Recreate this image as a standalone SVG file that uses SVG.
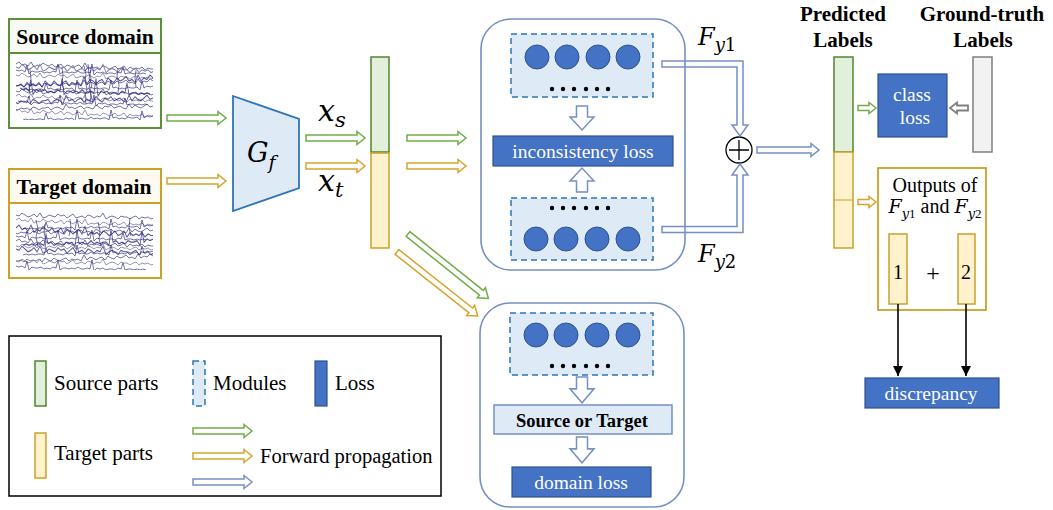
<svg xmlns="http://www.w3.org/2000/svg" width="1053" height="510" viewBox="0 0 1053 510" font-family="Liberation Serif, Times New Roman, serif">
  <style>
    text { font-family: 'Liberation Serif', 'Times New Roman', serif; }
    .b { font-weight: bold; }
    .w { fill: #fff; }
    .m { font-family: 'DejaVu Serif', 'Liberation Serif', serif; font-style: italic; }
    .n { font-style: normal; }
    .loss { fill: #4472c4; stroke: #2f528f; stroke-width: 1.2; }
    .mod { fill: #deebf7; stroke: #2e75b6; stroke-width: 1.5; stroke-dasharray: 6 4; }
    .unit { fill: #4472c4; stroke: #2f528f; stroke-width: 1; }
    .panel { fill: none; stroke: #7590c4; stroke-width: 1.6; }
    .src { fill: #e2efda; stroke: #548235; stroke-width: 1.5; }
    .tgt { fill: #fff2cc; stroke: #c9a227; stroke-width: 1.5; }
    .hg { fill: #fff; stroke: #70ad47; stroke-width: 1.5; }
    .hy { fill: #fff; stroke: #d4a52a; stroke-width: 1.5; }
    .hb { fill: #fff; stroke: #7590c4; stroke-width: 1.5; }
    .hk { fill: #fff; stroke: #7f7f7f; stroke-width: 1.8; }
    .eeg { fill: none; stroke: #26267a; stroke-width: 0.8; stroke-opacity: 0.8; }
    .eeg2 { fill: none; stroke: #7c7ca8; stroke-width: 0.8; }
  </style>
  <defs>
    <!-- hollow block arrows -->
    <path id="ha" d="M0,-3 H51 V-6.5 L59,0 L51,6.5 V3 H0 Z"/>
    <path id="hd" d="M0,-3 H94 V-6.5 L103,0 L94,6.5 V3 H0 Z"/>
    <path id="hs" d="M0,-2.5 H11 V-5.5 L18,0 L11,5.5 V2.5 H0 Z"/>
    <path id="dn" d="M-5.5,0 V11 H-12 L0,24 L12,11 H5.5 V0 Z"/>
    <!-- signal traces -->
    <path id="eA" d="M0,0 l3,-2 3,3 3,-1 3,2 3,-4 3,5 3,-2 3,1 3,-3 3,2 3,1 3,-2 3,3 3,-1 3,-2 3,4 3,-3 3,1 3,2 3,-2 3,-1 3,3 3,-5 3,6 3,-2 3,1 3,-1 3,2 3,-3 3,1 3,2 3,-1 3,-2 3,3 3,-1 3,-2 3,4 3,-3 3,2 3,-1 3,1 3,-2 3,3 3,-2 3,1 3,0"/>
    <path id="eB" d="M0,0 l3,1 3,-3 3,2 3,2 3,-1 3,-2 3,3 3,-4 3,5 3,-1 3,-2 3,1 3,1 3,-3 3,2 3,-1 3,3 3,-2 3,-2 3,4 3,-1 3,-1 3,2 3,-3 3,1 3,2 3,-2 3,1 3,-4 3,6 3,-2 3,-1 3,1 3,2 3,-3 3,1 3,0 3,2 3,-2 3,-1 3,3 3,-2 3,1 3,-1 3,2 3,-1"/>
    <path id="eC" d="M0,0 l3,1 3,-1 3,2 2,-7 2,9 3,-3 3,1 3,0 3,-1 3,2 3,-1 3,1 3,-2 3,1 2,-8 2,10 3,-2 3,0 3,1 3,-1 3,1 3,-2 3,2 3,0 3,-1 3,1 2,-9 2,11 3,-3 3,1 3,-1 3,2 3,-1 3,0 3,1 3,-2 3,1 2,-6 2,7 3,-1 3,0 3,1 3,-1 3,1 3,-1 3,1"/>
    <clipPath id="cs"><rect x="16" y="60" width="137" height="60"/></clipPath>
    <clipPath id="ct"><rect x="16" y="212" width="137" height="58"/></clipPath>
    <marker id="ak" viewBox="0 0 10 10" refX="10" refY="5" markerWidth="11" markerHeight="10" markerUnits="userSpaceOnUse" orient="auto">
      <path d="M0,0 L10,5 L0,10 Z" fill="#000"/>
    </marker>
  </defs>

  <!-- source domain input -->
  <g id="source-domain">
    <rect x="9" y="19" width="152" height="109" fill="#fff" stroke="#5b8f3a" stroke-width="2"/>
    <rect x="10" y="20" width="150" height="33" fill="#f6faf3"/>
    <line x1="9" y1="53" x2="161" y2="53" stroke="#5b8f3a" stroke-width="2"/>
    <text class="b" x="85" y="44" text-anchor="middle" font-size="21.5">Source domain</text>
    <g clip-path="url(#cs)">
      <use href="#eA" x="16" y="64" class="eeg"/>
      <use href="#eB" transform="translate(16,67) scale(1,1.4)" class="eeg2"/>
      <use href="#eC" x="16" y="70" class="eeg"/>
      <use href="#eB" x="16" y="75" class="eeg2"/>
      <use href="#eA" transform="translate(153,78) scale(-1,1.5)" class="eeg"/>
      <use href="#eA" transform="translate(153,81) scale(-1,1)" class="eeg"/>
      <use href="#eC" transform="translate(153,86) scale(-1,1)" class="eeg"/>
      <use href="#eC" transform="translate(20,88) scale(1,1.6)" class="eeg"/>
      <use href="#eB" x="16" y="91" class="eeg"/>
      <use href="#eA" x="16" y="96" class="eeg2"/>
      <use href="#eB" transform="translate(153,98) scale(-1,1.4)" class="eeg"/>
      <use href="#eC" x="18" y="101" class="eeg"/>
      <use href="#eB" transform="translate(153,106) scale(-1,1)" class="eeg"/>
      <use href="#eA" x="16" y="111" class="eeg2"/>
      <use href="#eC" transform="translate(153,116) scale(-1,1)" class="eeg"/>
      <path class="eeg" d="M84,66 l2,8 -1,6 2,9 -2,7 1,8 M88,64 l1,10 2,4 -2,10 2,6 -1,9 M91,70 l-2,9 3,5 -2,8 2,7 M30,70 l1,9 -2,8 1,7 M118,68 l-1,8 2,9 -1,8 M62,68 l1,7 -1,9 2,6 M136,70 l-1,8 1,9"/>
    </g>
  </g>

  <!-- target domain input -->
  <g id="target-domain">
    <rect x="9" y="169" width="152" height="109" fill="#fff" stroke="#c9a227" stroke-width="2"/>
    <rect x="10" y="170" width="150" height="33" fill="#fefaf0"/>
    <line x1="9" y1="203" x2="161" y2="203" stroke="#c9a227" stroke-width="2"/>
    <text class="b" x="84" y="194" text-anchor="middle" font-size="21.5">Target domain</text>
    <g clip-path="url(#ct)">
      <use href="#eB" x="16" y="215" class="eeg"/>
      <use href="#eA" x="16" y="220" class="eeg2"/>
      <use href="#eC" transform="translate(153,225) scale(-1,1)" class="eeg"/>
      <use href="#eA" transform="translate(16,228) scale(1,1.5)" class="eeg"/>
      <use href="#eB" transform="translate(153,230) scale(-1,1)" class="eeg"/>
      <use href="#eC" x="16" y="236" class="eeg"/>
      <use href="#eC" transform="translate(153,239) scale(-1,1.6)" class="eeg"/>
      <use href="#eA" x="16" y="241" class="eeg"/>
      <use href="#eB" x="16" y="246" class="eeg2"/>
      <use href="#eB" transform="translate(16,249) scale(1,1.4)" class="eeg"/>
      <use href="#eC" transform="translate(153,251) scale(-1,1)" class="eeg"/>
      <use href="#eA" transform="translate(153,256) scale(-1,1)" class="eeg"/>
      <use href="#eB" x="16" y="261" class="eeg2"/>
      <use href="#eC" x="16" y="266" class="eeg"/>
      <path class="eeg" d="M36,220 l2,9 -2,8 2,10 M45,224 l-1,8 2,9 -1,7 M70,219 l1,9 -2,8 M98,222 l2,9 -1,8 2,7 M130,218 l-1,10 2,8"/>
    </g>
  </g>

  <!-- feature extractor -->
  <g id="feature-extractor">
    <polygon points="233,96 299,119 299,188 233,211" fill="#deebf7" stroke="#2e75b6" stroke-width="1.8"/>
    <text class="m" x="247" y="162" font-size="27">G<tspan font-size="19" dy="7">f</tspan></text>
  </g>

  <!-- feature vector -->
  <g id="feature-bar">
    <rect class="src" x="371" y="57" width="18" height="95"/>
    <rect class="tgt" x="371" y="153" width="18" height="95"/>
    <text class="m" x="318" y="121" font-size="30">x<tspan font-size="21" dy="6">s</tspan></text>
    <text class="m" x="318" y="191" font-size="30">x<tspan font-size="21" dy="6">t</tspan></text>
  </g>

  <!-- label classifiers -->
  <g id="classifier-panel">
    <rect class="panel" x="481" y="19" width="204" height="251" rx="30" ry="30"/>
    <rect class="mod" x="511" y="34" width="142" height="63"/>
    <circle class="unit" cx="537" cy="57" r="12"/>
    <circle class="unit" cx="567" cy="57" r="12"/>
    <circle class="unit" cx="598" cy="57" r="12"/>
    <circle class="unit" cx="628" cy="57" r="12"/>
    <g fill="#000">
      <circle cx="552" cy="89" r="2.2"/><circle cx="563" cy="89" r="2.2"/><circle cx="574" cy="89" r="2.2"/>
      <circle cx="586" cy="89" r="2.2"/><circle cx="597" cy="89" r="2.2"/><circle cx="608" cy="89" r="2.2"/>
    </g>
    <rect class="mod" x="511" y="198" width="142" height="62"/>
    <g fill="#000">
      <circle cx="552" cy="208" r="2.2"/><circle cx="563" cy="208" r="2.2"/><circle cx="574" cy="208" r="2.2"/>
      <circle cx="586" cy="208" r="2.2"/><circle cx="597" cy="208" r="2.2"/><circle cx="608" cy="208" r="2.2"/>
    </g>
    <circle class="unit" cx="536" cy="239" r="12"/>
    <circle class="unit" cx="566" cy="239" r="12"/>
    <circle class="unit" cx="597" cy="239" r="12"/>
    <circle class="unit" cx="628" cy="239" r="12"/>
    <rect class="loss" x="493" y="136" width="180" height="30"/>
    <text class="w" x="583" y="158" text-anchor="middle" font-size="19.5">inconsistency loss</text>
    <use href="#dn" class="hb" transform="translate(582,106)"/>
    <use href="#dn" class="hb" transform="translate(582,192) scale(1,-1)"/>
  </g>

  <!-- domain discriminator -->
  <g id="domain-panel">
    <rect class="panel" x="480" y="303" width="204" height="204" rx="30" ry="30"/>
    <rect class="mod" x="510" y="313" width="143" height="62"/>
    <circle class="unit" cx="536" cy="335" r="12"/>
    <circle class="unit" cx="566" cy="335" r="12"/>
    <circle class="unit" cx="597" cy="335" r="12"/>
    <circle class="unit" cx="628" cy="335" r="12"/>
    <g fill="#000">
      <circle cx="552" cy="366" r="2.2"/><circle cx="563" cy="366" r="2.2"/><circle cx="574" cy="366" r="2.2"/>
      <circle cx="586" cy="366" r="2.2"/><circle cx="597" cy="366" r="2.2"/><circle cx="608" cy="366" r="2.2"/>
    </g>
    <use href="#dn" class="hb" transform="translate(582,377) scale(1,1.08)"/>
    <rect x="494" y="405" width="178" height="29" fill="#deebf7" stroke="#7590c4" stroke-width="1.5"/>
    <text class="b" x="582" y="427" text-anchor="middle" font-size="18.5">Source or Target</text>
    <use href="#dn" class="hb" transform="translate(582,437) scale(1,1.08)"/>
    <rect class="loss" x="512" y="467" width="139" height="30"/>
    <text class="w" x="581" y="489" text-anchor="middle" font-size="19.5">domain loss</text>
  </g>

  <!-- sum node -->
  <g id="sum">
    <circle cx="739" cy="150" r="13" fill="#fff" stroke="#000" stroke-width="1.3"/>
    <path d="M729,150 H749 M739,140 V160" stroke="#000" stroke-width="1.3"/>
  </g>
  <text class="m" x="698" y="45" font-size="24">F<tspan font-size="18" dy="6">y</tspan><tspan class="n" font-size="18">1</tspan></text>
  <text class="m" x="698" y="262" font-size="24">F<tspan font-size="18" dy="6">y</tspan><tspan class="n" font-size="18">2</tspan></text>

  <!-- predicted labels -->
  <g id="predicted-labels">
    <text class="b" x="843" y="21" text-anchor="middle" font-size="21">Predicted</text>
    <text class="b" x="843" y="47" text-anchor="middle" font-size="21">Labels</text>
    <rect class="src" x="834" y="57" width="19" height="95"/>
    <rect class="tgt" x="834" y="152" width="19" height="96"/>
    <line x1="834" y1="200" x2="853" y2="200" stroke="#c9a227" stroke-width="1"/>
  </g>

  <!-- ground truth -->
  <g id="ground-truth">
    <text class="b" x="982" y="21" text-anchor="middle" font-size="21">Ground-truth</text>
    <text class="b" x="983" y="47" text-anchor="middle" font-size="21">Labels</text>
    <rect x="973" y="57" width="19" height="95" fill="#f2f2f2" stroke="#7f7f7f" stroke-width="1.5"/>
  </g>

  <!-- class loss -->
  <g id="class-loss">
    <rect class="loss" x="878" y="74" width="69" height="63"/>
    <text class="w" x="912" y="101" text-anchor="middle" font-size="19.5">class</text>
    <text class="w" x="915" y="124" text-anchor="middle" font-size="19.5">loss</text>
  </g>

  <!-- classifier outputs -->
  <g id="outputs">
    <rect x="878" y="168" width="108" height="142" fill="#fff" stroke="#c9a227" stroke-width="1.8"/>
    <text x="935" y="192" text-anchor="middle" font-size="20">Outputs of</text>
    <text x="935" y="213" text-anchor="middle" font-size="20"><tspan class="m" font-size="19">F</tspan><tspan class="m" font-size="13" dy="5">y</tspan><tspan font-size="13">1</tspan><tspan dy="-5"> and </tspan><tspan class="m" font-size="19">F</tspan><tspan class="m" font-size="13" dy="5">y</tspan><tspan font-size="13">2</tspan></text>
    <rect class="tgt" x="889" y="234" width="18" height="70"/>
    <rect class="tgt" x="958" y="234" width="17" height="70"/>
    <text x="898" y="279" text-anchor="middle" font-size="20">1</text>
    <text x="966" y="279" text-anchor="middle" font-size="20">2</text>
    <text x="933" y="281" text-anchor="middle" font-size="24">+</text>
  </g>

  <!-- discrepancy -->
  <g id="discrepancy">
    <rect class="loss" x="865" y="378" width="134" height="30"/>
    <text class="w" x="931" y="400" text-anchor="middle" font-size="19.5">discrepancy</text>
  </g>

  <!-- connectors -->
  <g id="connectors">
    <use href="#ha" class="hg" x="167" y="118"/>
    <use href="#ha" class="hy" x="167" y="181"/>
    <use href="#ha" class="hg" x="306" y="138"/>
    <use href="#ha" class="hy" x="306" y="166"/>
    <use href="#ha" class="hg" x="407" y="138"/>
    <use href="#ha" class="hy" x="407" y="166"/>
    <use href="#hd" class="hg" transform="translate(408,234) rotate(38.7)"/>
    <use href="#hd" class="hy" transform="translate(397,252) rotate(38.4)"/>
    <path class="hb" style="fill:none" d="M662,61 H743 V125 H748 L740,136 L732,125 H737 V67 H662 Z"/>
    <path class="hb" style="fill:none" d="M662,232.5 H743 V175 H748 L740,164 L732,175 H737 V226.5 H662 Z"/>
    <path class="hb" d="M757,147 H811 V143.5 L819,150 L811,156.5 V153 H757 Z"/>
    <use href="#hs" class="hg" x="858" y="108"/>
    <use href="#hs" class="hy" x="858" y="202"/>
    <use href="#hs" class="hk" transform="translate(968,108) scale(-1,1)"/>
    <line x1="898" y1="304" x2="898" y2="376" stroke="#000" stroke-width="1.6" marker-end="url(#ak)"/>
    <line x1="966" y1="304" x2="966" y2="376" stroke="#000" stroke-width="1.6" marker-end="url(#ak)"/>
  </g>

  <!-- legend -->
  <g id="legend">
    <rect x="9" y="336" width="432" height="160" fill="#fff" stroke="#000" stroke-width="1.5"/>
    <rect class="src" x="35" y="361" width="11" height="45"/>
    <text x="54" y="390" font-size="21">Source parts</text>
    <rect class="mod" x="193" y="361" width="12" height="45" stroke-dasharray="5 3"/>
    <text x="213" y="390" font-size="21">Modules</text>
    <rect class="loss" x="315" y="361" width="12" height="45"/>
    <text x="335" y="390" font-size="21">Loss</text>
    <rect class="tgt" x="35" y="433" width="11" height="45"/>
    <text x="54" y="460" font-size="21">Target parts</text>
    <use href="#ha" class="hg" x="193" y="431"/>
    <use href="#ha" class="hy" x="193" y="456"/>
    <use href="#ha" class="hb" x="193" y="482"/>
    <text x="260" y="463" font-size="20.5">Forward propagation</text>
  </g>
</svg>
